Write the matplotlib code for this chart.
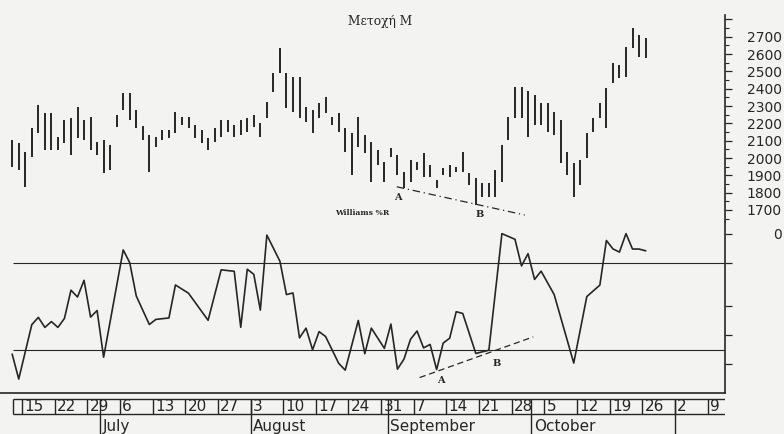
import matplotlib.pyplot as plt
import numpy as np

# trading-day index: Mon 15 June = 0, five days per week
days = np.arange(-2, 96)
high = [2104, 2085, 2036, 2171, 2306, 2258, 2258, 2123, 2219, 2229,
        2297, 2219, 2239, 2095, 2104, 2075, 2248, 2373, 2373, 2277,
        2185, 2133, 2123, 2162, 2162, 2268, 2239, 2239, 2191, 2162,
        2114, 2171, 2219, 2219, 2191, 2219, 2229, 2248, 2200, 2325,
        2489, 2633, 2489, 2469, 2469, 2297, 2277, 2316, 2354, 2239,
        2258, 2171, 2143, 2239, 2133, 2095, 2046, 1979, 2056, 2017,
        1921, 1988, 1979, 2027, 1960, 1873, 1940, 1960, 1950, 2036,
        1912, 1883, 1854, 1854, 1931, 2075, 2239, 2412, 2412, 2387,
        2364, 2316, 2316, 2268, 2219, 2036, 1969, 1988, 2143, 2229,
        2316, 2402, 2546, 2537, 2642, 2748, 2710, 2691]
low = [1950, 1931, 1834, 2008, 2143, 2046, 2046, 2046, 2085, 2017,
       2114, 2104, 2046, 2017, 1912, 1931, 2181, 2277, 2219, 2171,
       2104, 1921, 2065, 2104, 2114, 2143, 2191, 2171, 2114, 2085,
       2046, 2095, 2123, 2152, 2123, 2133, 2152, 2181, 2123, 2229,
       2383, 2489, 2287, 2268, 2229, 2210, 2143, 2229, 2258, 2191,
       2152, 2036, 1902, 2065, 2027, 1863, 1960, 1863, 2008, 1902,
       1825, 1863, 1931, 1892, 1892, 1825, 1902, 1892, 1921, 1921,
       1844, 1729, 1777, 1777, 1777, 1863, 2104, 2229, 2229, 2123,
       2191, 2191, 2152, 2133, 1969, 1902, 1777, 1844, 1998, 2152,
       2229, 2171, 2431, 2460, 2469, 2633, 2585, 2575]

# Williams %R
wr_days = [-2, -1, 1, 2, 3, 4, 5, 6, 7, 8, 9, 10, 11, 12, 15, 16, 17, 19,
           20, 22, 23, 25, 28, 30, 32, 33, 34, 35, 36, 37, 39, 40, 41, 42,
           43, 44, 45, 46, 48, 49, 51, 52, 53, 55, 56, 57, 58, 59, 60, 61,
           62, 63, 64, 65, 66, 67, 69, 71, 73, 75, 76, 77, 78, 79, 81, 84,
           86, 88, 89, 90, 91, 92, 93, 94, 95]
wr_vals = [-83, -100, -62.6, -57.6, -64.5, -60.5, -64.5, -58.3, -38.9, -43.6,
           -32.1, -57.4, -52.9, -85, -11.2, -20, -42.9, -62.5, -59, -58,
           -35.3, -41, -59.6, -24.9, -25.9, -64.4, -24.5, -28, -52.6, -1,
           -19, -41.9, -40.8, -71.7, -65, -79.9, -67.4, -70.8, -89.2, -93.9,
           -59.7, -82.6, -65, -78.9, -62.2, -93.2, -86.3, -72.7, -67, -78.6,
           -76.2, -93.5, -75.3, -71.9, -53.7, -54.9, -82.4, -80.2, 0, -3.9,
           -22.2, -13.8, -31.5, -25.8, -41.9, -89, -43.3, -35.4, -4.7, -10.5,
           -12.7, 0, -10.6, -10.6, -11.8]

# divergence trend lines A-B
price_trend_x = [56.9, 76.5]
price_trend_y = [1834, 1671]
wr_trend_x = [60.4, 77.8]
wr_trend_y = [-99, -71]

week_labels = ["15", "22", "29", "6", "13", "20", "27", "3", "10", "17", "24",
               "31", "7", "14", "21", "28", "5", "12", "19", "26", "2", "9"]
month_names = ["July", "August", "September", "October", ""]
month_first_day = [12, 35, 56, 78, 100]

price_ticks = list(range(1700, 2800, 100))

bg = "#f3f3f1"
ink = "#262626"
xlim = (-3.87, 107.16)

fig = plt.figure(figsize=(7.84, 4.34), dpi=100, facecolor=bg)
ax_p = fig.add_axes([0, 0.4885, 0.9247, 0.4769], facecolor=bg)
ax_w = fig.add_axes([0, 0.0945, 0.9247, 0.394], facecolor=bg, sharex=ax_p)
ax_d = fig.add_axes([0, 0.0, 0.9247, 0.0876], facecolor=bg, sharex=ax_p)

# price bars
ax_p.vlines(days, low, high, color=ink, linewidth=1.4)
ax_p.plot(price_trend_x, price_trend_y, color=ink, linewidth=0.9,
          linestyle=(0, (6, 3, 1, 3)))
ax_p.text(57.1, 1775, "A", fontsize=7, family="DejaVu Serif",
          fontweight="bold", ha="center", va="center", color=ink)
ax_p.text(69.6, 1676, "B", fontsize=7, family="DejaVu Serif",
          fontweight="bold", ha="center", va="center", color=ink)
ax_p.text(54.3, 2785, "Μετοχή Μ", fontsize=8.8, family="DejaVu Serif",
          ha="center", va="center", color=ink)
ax_p.text(51.6, 1683, "Williams %R", fontsize=5.5, family="DejaVu Serif",
          fontweight="bold", ha="center", va="center", color=ink)
ax_p.set_ylim(1630.8, 2825.2)
ax_p.set_xlim(*xlim)

# Williams %R panel
ax_w.plot(wr_days, wr_vals, color=ink, linewidth=1.2)
ax_w.hlines([-20, -80], -1.9, xlim[1], color=ink, linewidth=0.8)
ax_w.plot(wr_trend_x, wr_trend_y, color=ink, linewidth=0.9,
          linestyle=(0, (5, 3)))
ax_w.text(63.7, -100.8, "A", fontsize=7, family="DejaVu Serif",
          fontweight="bold", ha="center", va="center", color=ink)
ax_w.text(72.2, -89.4, "B", fontsize=7, family="DejaVu Serif",
          fontweight="bold", ha="center", va="center", color=ink)
ax_w.set_ylim(-109.6, 8)

for ax in (ax_p, ax_w):
    for side in ("left", "top"):
        ax.spines[side].set_visible(False)
    ax.spines["right"].set_color(ink)
    ax.spines["right"].set_linewidth(1.2)
    ax.yaxis.tick_right()
    ax.tick_params(axis="x", bottom=False, labelbottom=False)
    ax.tick_params(axis="y", direction="out", length=5, width=0.9,
                   color=ink, labelsize=10, labelcolor=ink, pad=36)
ax_p.spines["bottom"].set_visible(False)
ax_w.spines["bottom"].set_color(ink)
ax_w.spines["bottom"].set_linewidth(1.2)

ax_p.set_yticks(price_ticks + [2800])
ax_p.set_yticklabels([str(t) for t in price_ticks] + [""])
ax_p.set_yticks(np.arange(1650, 2800, 50), minor=True)
ax_p.tick_params(axis="y", which="minor", length=3, width=0.8, color=ink)
ax_w.set_yticks([0, -20, -50, -70, -90])
ax_w.set_yticklabels(["0", "", "", "", ""])
for ax in (ax_p, ax_w):
    for lab in ax.get_yticklabels():
        lab.set_horizontalalignment("right")

# date strip: weeks on top row, months below
ax_d.set_ylim(0, 1)
ax_d.axis("off")
row_top, row_mid = 0.93, 0.526
ax_d.hlines([row_top, row_mid], -1.9, xlim[1], color=ink, linewidth=1.0)
ax_d.vlines([-1.9], row_mid, row_top, color=ink, linewidth=1.0)
for k, lab in enumerate(week_labels):
    x0 = 5 * k - 0.5
    ax_d.vlines(x0, row_mid, row_top, color=ink, linewidth=1.0)
    ax_d.text(x0 + 0.35, 0.72, lab, fontsize=11, family="DejaVu Sans",
              ha="left", va="center", color=ink)
for first, name in zip(month_first_day, month_names):
    x0 = first - 0.5
    ax_d.vlines(x0, 0, row_top, color=ink, linewidth=1.0)
    ax_d.text(x0 + 0.4, 0.2, name, fontsize=11, family="DejaVu Sans",
              ha="left", va="center", color=ink)

fig.savefig("out.png", dpi=100, facecolor=bg)
